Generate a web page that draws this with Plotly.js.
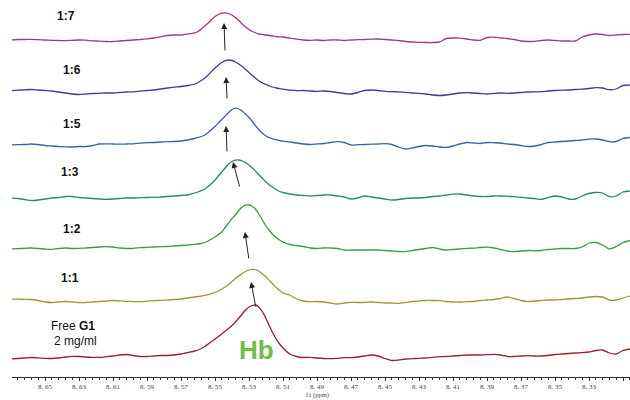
<!DOCTYPE html>
<html>
<head>
<meta charset="utf-8">
<script src="https://cdn.plot.ly/plotly-3.0.1.min.js"></script>
<style>html,body{margin:0;padding:0;background:#fff;}#chart{width:630px;height:400px;}</style>
</head>
<body>
<div id="chart"></div>
<script>
// chemical shift grid (ppm)
const ppm = [
  8.670,8.666,8.662,8.658,8.654,8.650,8.646,8.642,8.638,8.634,8.630,8.626,8.622,8.618,8.614,8.610,8.606,8.602,8.598,8.594,8.590,8.586,8.582,8.578,8.574,8.570,8.566,8.562,
  8.560,8.558,8.556,8.554,8.552,8.550,8.548,8.546,8.544,8.542,8.540,8.538,8.536,8.534,8.532,8.530,8.528,8.526,8.524,8.522,8.520,8.518,8.516,8.514,8.512,8.510,
  8.506,8.502,8.498,8.494,8.490,8.486,8.482,8.478,8.474,8.470,8.466,8.462,8.458,8.454,8.450,8.446,8.442,8.438,8.434,8.430,8.426,8.422,8.418,8.414,8.410,8.406,8.402,8.398,8.394,8.390,8.386,8.382,8.378,8.374,8.370,8.366,8.362,8.358,8.354,8.350,8.346,8.342,8.338,8.334,8.330,8.326,8.322,8.318,8.314,8.310,8.306
];

// spectrum intensities (relative to each trace's own baseline)
const ratio17 = [
  0,0.5,0.5,0.7,0.3,0,-0.3,-0.5,-0.7,-0.3,0,-0.2,-0.8,-1.2,-1.5,-1.5,-1,-0.5,0,0.5,1.2,2,3.2,4.5,5,5,6,7.2,
  8.5,11,14,17,20.5,23.5,25.5,26.8,27.2,26.5,25,22.5,19.5,16,13,10.5,8.5,7,6,5.5,5,4.5,4,3.5,3.2,3,
  1.8,0.8,0,-0.3,0,-0.5,0,0,-0.5,0,0.3,0.5,0.8,1,0.5,0,-0.5,-1.5,-2,-2.3,-2.5,-2.5,-2,1.5,2,1.8,1,0,-0.3,2.5,2.8,2,1.5,0.5,-1,-1.5,-1.3,-0.5,0,-0.5,-1,-1,-1,3,5,6,5.5,4.5,5,5.5,5.7
];
const ratio16 = [
  0.3,0.8,1.2,1.5,1,0.5,0,-1,-2,-3,-3.5,-3,-2.5,-2.3,-2,-2,-1.5,-1,-0.8,-0.2,0.5,1,2,3,3.8,4.5,5.5,7,
  8.5,10.5,13,16,19.5,23,26,28.5,30.3,31,30.5,29,27,24.5,21.5,18.5,15.5,12.5,10,8,6.5,5,4,3,2.3,1.8,
  0.8,0.3,0.5,0,-0.3,0,-0.5,-1.5,-2.5,-3,-1.5,0.5,1,0.5,-0.3,-0.7,-0.8,-1.3,-2,-2.3,-3,-4,-4.5,-4,-3,-2,-1.7,-2,-2.5,-3,-2.5,-2,-2.3,-2,-1.5,-1,-0.8,-0.7,0,0.5,0.8,1,1.5,1.8,2.5,3.3,3,1.3,2,5.5,6
];
const ratio15 = [
  0,0.3,0.5,1,0.5,-0.5,-1,-1.5,-1.8,-2,-1.5,-1.5,-0.5,1,1.2,1,0.8,1,1.2,1.8,2.3,2.5,3,3.3,3.5,4,5,6.5,
  7.5,8.5,10,12.5,15.5,18.5,22,25.5,29,32.5,35.5,36.8,36,34,31,27.5,23.5,19,15,11.5,9,7.3,6.2,5.3,4.5,3.8,
  3,2,1,0.5,1,1.5,2.5,3.3,2.5,0,0.3,0.5,0.8,1,1.3,0.5,-2,-4,-3,-1.5,-0.5,-1,-2,-2.3,-1,1,2.5,2,1.5,2.5,2.3,2,1,0.5,-0.5,-1.5,-1,0.5,2.5,3,3.5,4,4.5,5,5.8,6,5,3.3,3.5,6.5,7.5
];
const ratio13 = [
  0,-0.5,-1.5,-2.5,-2,-1,0,0.5,1.5,1.5,0.5,0,-0.5,-1,-1.3,-1,-0.5,0,0,0.3,0.5,0.7,1,1.5,2,2.5,3,5,
  6,7.5,9,11.5,14.5,18,22,26,30,34,36.5,37.8,38,37,35.5,33,30,26.5,23,19.5,16,13,10.5,8.5,6.5,5.5,
  4,3,2.5,2,2.5,3,3,2,1,-1,0,2,1,0,-1,-2,-1.5,-0.5,0,0,0.5,1.5,2,3,3.8,4,3,2,1.5,1.5,2,2,1.8,1.3,0.8,0,-0.5,-1.3,0.5,2,1,-1,-1,2,4.5,5.5,5,1.3,2,6,7
];
const ratio12 = [
  0,0.3,0.7,1,0.5,0,-0.3,0.5,1,0.5,0.7,1,1.5,2,2.3,2,1,0.5,0.7,1.3,1.7,2,2.3,2.5,3,3.5,4,4.7,
  5,5.5,6.5,8,10,12,14.5,17,21.5,26,30.5,34,38.5,42,43.8,44,42.5,39.5,34.5,28.5,23,18.5,14.5,11.5,9,7,
  4.5,3.5,2.5,1,0.5,1,1,0.5,-1,-1,-1,-1,-1,-1,-1.5,-2,-2.5,-2.7,-1.5,-0.5,0.5,1.5,0,-1,-0.5,0,0.7,0.8,1.5,1.8,1,-0.5,-2,-2.7,-2,-1.5,-1.8,-1.5,-0.5,0,0.5,0.5,0.5,2,6,6.5,4,0,2.5,6.5,8.5
];
const ratio11 = [
  1,0.8,0.7,0.5,-0.5,-2,-2.5,-2,-1.5,-2,-2.5,-2.5,-2,-1.5,-1,-0.5,-0.8,-1.3,-1.5,-1.7,-1.2,-0.7,-0.3,0,0.5,1,2,3,
  3.5,4,4.7,5.3,6.5,7.5,9,11,13,15.5,18.5,21.5,24,26.5,28.5,30,30.7,30.3,28.5,26,23,19.5,16,12.5,9.5,7,
  5,1,-1,-1.7,-1.5,-2,-3,-4,-3,-2.3,-2.5,-2.3,-2,-2.5,-3,-3,-3.3,-2.5,-1.5,-1,-0.5,-0.5,-0.7,-1.5,-2,-2,-1.7,-1.5,-0.5,0,0.5,1.5,3,1.5,-0.5,-1.7,-1,-0.5,0,0,0.5,1,1.5,2,3,3.5,3,0,0,2,4
];
const freeG1 = [
  0,0.5,1,1.5,1.2,0.7,0.5,1,2,2.7,2.5,2,1.7,1.7,2.3,3,4,4.5,3.5,2.5,2.5,3,3.5,3.5,4,5,6.5,8,
  9,10.5,12.5,15,17.5,20,22.5,25,28,30.5,33.5,37,41,45,49,52,53.5,54,51.5,47,40.5,33,26,20,15,11,
  5,2.5,1.5,1.7,1,0.5,0.3,0.7,1.3,1.3,2,3,4,3,0.5,-1.5,-1,0,0.3,0.7,1,1.7,2.3,2.5,3,3.5,4,4,4,4.3,4.7,4,2.5,2.5,3,3.3,3,3,3.5,4.5,5,5.5,6,6.3,7,8.5,9,6,5,8.5,10
];

const seriesNames = ['1:7','1:6','1:5','1:3','1:2','1:1','Free G1'];
const seriesValues = [ratio17, ratio16, ratio15, ratio13, ratio12, ratio11, freeG1];

// x-axis tick values and labels
const tickVals = [8.65,8.63,8.61,8.59,8.57,8.55,8.53,8.51,8.49,8.47,8.45,8.43,8.41,8.39,8.37,8.35,8.33,8.31];
const tickLabels = ['8. 65','8. 63','8. 61','8. 59','8. 57','8. 55','8. 53','8. 51','8. 49','8. 47','8. 45','8. 43','8. 41','8. 39','8. 37','8. 35','8. 33','8. 31'];
const axisTitle = 'f1 (ppm)';

// arrows marking the peak shift (head ppm / head level, tail ppm / tail level)
const arrowHeadPpm = [8.5447, 8.5435, 8.5435, 8.5394, 8.5324, 8.5288];
const arrowHeadLvl = [361, 307, 258, 222, 152, 102];
const arrowTailPpm = [8.5441, 8.5429, 8.5429, 8.5353, 8.5300, 8.5259];
const arrowTailLvl = [332, 284, 231, 196, 124, 76];

// ---- styling / stacking ----
const stackOffsets = [344, 293, 239, 186, 135, 84, 25];
const colors = ['#9c3a8c', '#3b3d98', '#3a62a8', '#2b8a62', '#3f9b40', '#a09440', '#a01c2e'];

const traces = seriesValues.map((vals, i) => ({
  type: 'scatter', mode: 'lines', name: seriesNames[i],
  x: ppm, y: vals.map(v => v + stackOffsets[i]),
  line: {color: colors[i], width: 1.3, shape: 'spline', smoothing: 0.6},
  hoverinfo: 'skip'
}));

const labelFont = {family: 'Liberation Sans, Arial, sans-serif', size: 12, color: '#111'};
const annotations = [
  {x: 8.6376, y: 368, text: '<b>1:7</b>'},
  {x: 8.6341, y: 314, text: '<b>1:6</b>'},
  {x: 8.6341, y: 260, text: '<b>1:5</b>'},
  {x: 8.6353, y: 212, text: '<b>1:3</b>'},
  {x: 8.6341, y: 155, text: '<b>1:2</b>'},
  {x: 8.6353, y: 106, text: '<b>1:1</b>'},
  {x: 8.6335, y: 58, text: 'Free <b>G1</b>'},
  {x: 8.6322, y: 43, text: '2 mg/ml'}
].map(a => Object.assign({xref: 'x', yref: 'y', showarrow: false, font: labelFont, xanchor: 'center', yanchor: 'middle'}, a));

annotations.push({x: 8.5253, y: 34, xref: 'x', yref: 'y', text: '<b>Hb</b>', showarrow: false,
  font: {family: 'Liberation Sans, Arial, sans-serif', size: 26, color: '#6cbf45'}, xanchor: 'center', yanchor: 'middle'});

// x-axis title, at the bottom edge below the tick labels
annotations.push({x: 0.495, y: -0.0610, xref: 'paper', yref: 'paper', text: axisTitle, showarrow: false,
  xanchor: 'center', yanchor: 'bottom', borderpad: 0,
  font: {family: 'Liberation Serif, DejaVu Serif, serif', size: 6.5, color: '#444'}});

arrowHeadPpm.forEach((hx, i) => {
  annotations.push({x: hx, y: arrowHeadLvl[i], ax: arrowTailPpm[i], ay: arrowTailLvl[i],
    xref: 'x', yref: 'y', axref: 'x', ayref: 'y', text: '', showarrow: true,
    arrowhead: 2, arrowsize: 1.2, arrowwidth: 1, arrowcolor: '#222', standoff: 0, startstandoff: 0});
});

const layout = {
  width: 630, height: 400,
  margin: {l: 12, r: 0, t: 0, b: 23},
  paper_bgcolor: '#fff', plot_bgcolor: '#fff',
  showlegend: false,
  xaxis: {
    range: [8.66941, 8.30588],
    tickmode: 'array', tickvals: tickVals, ticktext: tickLabels,
    ticks: 'outside', ticklen: 3, tickwidth: 1, tickcolor: '#333',
    minor: {tickmode: 'linear', tick0: 8.65, dtick: 0.004, ticks: 'outside', ticklen: 2, tickcolor: '#333'},
    showline: true, linecolor: '#333', linewidth: 1,
    showgrid: false, zeroline: false,
    tickfont: {family: 'Liberation Serif, DejaVu Serif, serif', size: 7, color: '#444'}
  },
  yaxis: {range: [7, 384], visible: false, fixedrange: true},
  annotations: annotations
};

Plotly.newPlot('chart', traces, layout, {staticPlot: true, displayModeBar: false});
</script>
</body>
</html>
